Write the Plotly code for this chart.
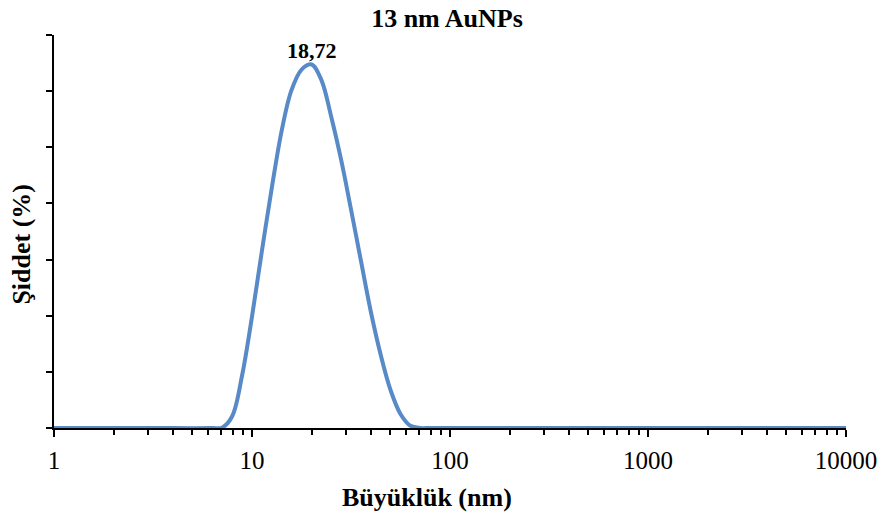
import math
import plotly.graph_objects as go

# Size (nm) and intensity (%)
size_nm = [1, 3, 6.31, 7.08, 7.94, 8.91, 10.0, 11.2, 12.6, 14.1, 15.8, 17.8, 20.0,
           22.4, 25.1, 28.2, 31.6, 35.5, 39.8, 44.7, 50.1, 56.2, 63.1, 70.8, 79.4,
           200, 1000, 10000]
intensity = [0, 0, 0, 0.02, 0.42, 1.87, 3.97, 6.27, 8.57, 10.57, 12.02, 12.77, 12.95,
             12.4, 11.1, 9.55, 7.8, 5.95, 4.15, 2.6, 1.35, 0.5, 0.08, 0, 0,
             0, 0, 0]

peak_label = "18,72"
peak_x = 20.0
peak_y = 12.95

x_tickvals = [1, 10, 100, 1000, 10000]
x_ticktext = ["1", "10", "100", "1000", "10000"]
x_minor = [m * d for d in (1, 10, 100, 1000) for m in range(2, 10)]

serif = "Liberation Serif, Times New Roman, serif"

fig = go.Figure()
fig.add_trace(go.Scatter(
    x=size_nm, y=intensity, mode="lines",
    line=dict(color="rgb(88,138,200)", width=4, shape="spline", smoothing=1.0),
    showlegend=False, hoverinfo="skip",
))

fig.add_annotation(x=math.log10(peak_x), y=peak_y, text="<b>" + peak_label + "</b>",
                   showarrow=False, yanchor="bottom", yshift=-1,
                   font=dict(family=serif, size=22, color="black"))

# axis titles as positioned annotations
fig.add_annotation(xref="paper", yref="paper", x=0.471, y=-0.176,
                   text="<b>Büyüklük (nm)</b>", showarrow=False,
                   xanchor="center", yanchor="middle",
                   font=dict(family=serif, size=26, color="black"))
fig.add_annotation(xref="paper", yref="paper", x=-0.041, y=0.468,
                   text="<b>Şiddet (%)</b>", showarrow=False, textangle=-90,
                   xanchor="center", yanchor="middle",
                   font=dict(family=serif, size=26, color="black"))

fig.update_layout(
    width=889, height=513,
    margin=dict(l=54, r=41, t=35, b=85),
    paper_bgcolor="white", plot_bgcolor="white",
    title=dict(text="<b>13 nm AuNPs</b>", x=447 / 889, xanchor="center",
               y=1 - 18 / 513, yanchor="middle", yref="container",
               font=dict(family=serif, size=26, color="black")),
    xaxis=dict(
        type="log", range=[0, 4],
        tickvals=x_tickvals, ticktext=x_ticktext,
        ticks="outside", ticklen=7, tickwidth=2, tickcolor="black",
        showline=True, linecolor="black", linewidth=2,
        showgrid=False, zeroline=False,
        ticklabelstandoff=2,
        tickfont=dict(family=serif, size=25, color="black"),
        minor=dict(tickvals=x_minor, ticks="outside", ticklen=5, tickwidth=2,
                   tickcolor="black", showgrid=False),
    ),
    yaxis=dict(
        range=[0, 14], dtick=2,
        ticks="outside", ticklen=6, tickwidth=2, tickcolor="black",
        showline=True, linecolor="black", linewidth=2,
        showgrid=False, zeroline=False, showticklabels=False,
    ),
)

fig.write_html("out.html")
